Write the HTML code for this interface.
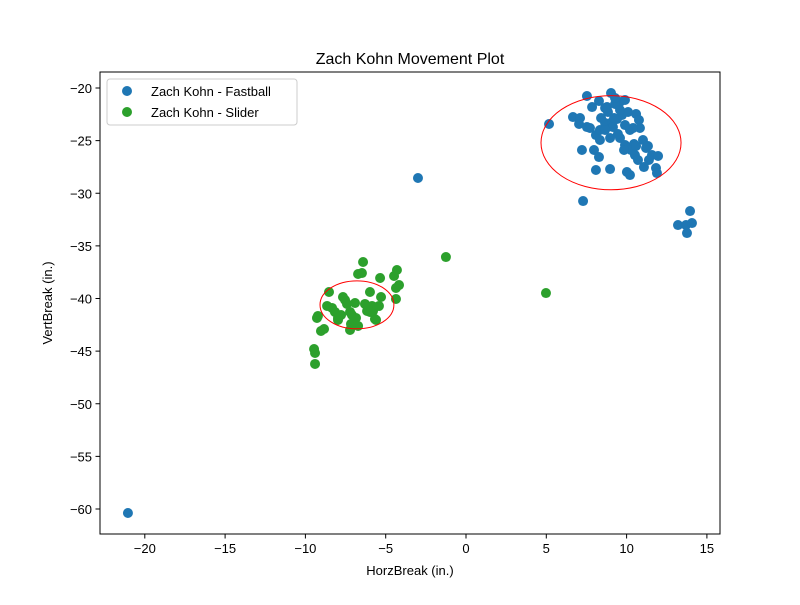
<!DOCTYPE html>
<html><head><meta charset="utf-8"><style>
body{margin:0;background:#fff}
svg text{font-family:"Liberation Sans","DejaVu Sans",sans-serif;fill:#000}
</style></head><body>
<svg id="chart" width="800" height="600" xmlns="http://www.w3.org/2000/svg">
<rect width="800" height="600" fill="#fff"/>
<text x="410" y="64" font-size="16" text-anchor="middle">Zach Kohn Movement Plot</text>
<g id="marks"></g>
<rect x="100" y="72" width="620" height="462" fill="none" stroke="#000" stroke-width="1"/>
<g id="axes"></g>
<text x="410" y="575" font-size="13" text-anchor="middle">HorzBreak (in.)</text>
<text x="52" y="303" font-size="13" text-anchor="middle" transform="rotate(-90 52 303)">VertBreak (in.)</text>
<g>
<rect x="107" y="79" width="190" height="46" rx="3" fill="#fff" fill-opacity="0.8" stroke="#ccc"/>
<circle cx="127" cy="91" r="5" fill="#1f77b4"/>
<text x="151" y="96" font-size="13">Zach Kohn - Fastball</text>
<circle cx="127" cy="112" r="5" fill="#2ca02c"/>
<text x="151" y="117" font-size="13">Zach Kohn - Slider</text>
</g>
</svg>
<script>
const xTicks=[-20,-15,-10,-5,0,5,10,15];
const yTicks=[-20,-25,-30,-35,-40,-45,-50,-55,-60];
const fastballX=[-21.05,-2.99,5.17,7.29,7.53,9.03,8.28,6.66,7.10,7.85,8.78,9.59,9.90,7.04,7.53,7.22,8.09,8.34,8.66,9.09,9.40,9.71,10.09,10.59,10.77,10.83,7.97,8.28,8.09,8.97,10.02,10.21,10.46,10.52,10.71,11.02,11.21,11.33,11.58,11.39,11.83,11.89,11.96,11.08,9.28,9.59,9.15,8.66,9.59,9.90,10.21,10.40,9.46,8.97,8.34,7.72,8.41,8.84,13.20,13.95,13.70,13.76,14.07,9.28,8.66,9.90,10.27,10.59,9.84,9.22];
const fastballY=[-60.38,-28.55,-23.42,-30.74,-20.76,-20.48,-21.24,-22.76,-22.85,-21.81,-21.81,-21.33,-21.14,-23.42,-23.71,-25.89,-24.47,-23.99,-23.33,-23.23,-22.95,-22.57,-22.28,-22.47,-23.04,-23.80,-25.89,-26.56,-27.79,-27.70,-27.98,-28.27,-25.32,-26.37,-26.84,-24.94,-25.70,-25.51,-26.37,-26.84,-27.60,-28.08,-26.46,-27.51,-21.52,-22.09,-23.71,-23.99,-24.75,-25.42,-23.99,-23.80,-24.37,-24.75,-24.94,-23.80,-22.85,-22.28,-33.02,-31.69,-33.02,-33.78,-32.83,-20.95,-21.90,-23.52,-25.89,-25.51,-25.89,-22.85];
const sliderX=[-8.53,-9.46,-9.40,-9.40,-9.28,-9.22,-9.03,-8.84,-8.65,-8.34,-8.16,-7.97,-7.97,-7.66,-7.53,-7.41,-7.22,-7.10,-6.91,-6.72,-6.48,-6.41,-6.72,-7.22,-7.16,-7.78,-6.16,-6.29,-5.98,-5.85,-5.79,-5.67,-5.42,-5.29,-5.35,-4.36,-4.48,-4.30,-4.17,-4.36,-5.98,-5.60,-1.25,4.98,-6.85];
const sliderY=[-39.38,-44.80,-45.18,-46.22,-41.85,-41.66,-43.09,-42.90,-40.71,-40.90,-41.28,-41.85,-42.04,-39.86,-40.14,-40.52,-41.28,-41.57,-40.43,-37.67,-37.58,-36.53,-42.61,-42.99,-42.42,-41.57,-41.19,-40.52,-39.38,-40.71,-41.19,-41.95,-40.71,-39.86,-38.05,-39.00,-37.86,-37.29,-38.72,-40.05,-41.28,-42.04,-36.06,-39.48,-41.85];
const ellipseCenters=[[9.03,-25.2],[-6.79,-40.6]];
const ellipseRadii=[[4.36,4.47],[2.3,2.28]];
const NS="http://www.w3.org/2000/svg";
const sx=v=>466+v*16.06;
const sy=v=>88-(v+20)*10.525;
const marks=document.getElementById('marks'), axes=document.getElementById('axes');
function mk(tag,attrs,parent){const e=document.createElementNS(NS,tag);for(const k in attrs)e.setAttribute(k,attrs[k]);parent.appendChild(e);return e;}
fastballX.forEach((x,i)=>{const c=mk('circle',{cx:sx(x),cy:sy(fastballY[i]),r:5,fill:'#1f77b4'},marks);

});
sliderX.forEach((x,i)=>{const c=mk('circle',{cx:sx(x),cy:sy(sliderY[i]),r:5,fill:'#2ca02c'},marks);

});
ellipseCenters.forEach((c,i)=>{const e=mk('ellipse',{cx:sx(c[0]),cy:sy(c[1]),rx:ellipseRadii[i][0]*16.06,ry:ellipseRadii[i][1]*10.525,fill:'none',stroke:'red','stroke-width':1},marks);

});
xTicks.forEach(t=>{const x=sx(t);mk('line',{x1:x,x2:x,y1:534,y2:538.5,stroke:'#000'},axes);
const tx=mk('text',{x:x,y:553,'font-size':13,'text-anchor':'middle'},axes);tx.textContent=t<0?'\u2212'+(-t):t;

});
yTicks.forEach(t=>{const y=sy(t);mk('line',{x1:95.5,x2:100,y1:y,y2:y,stroke:'#000'},axes);
const tx=mk('text',{x:92,y:y+5,'font-size':13,'text-anchor':'end'},axes);tx.textContent='\u2212'+(-t);

});
</script>
</body></html>
